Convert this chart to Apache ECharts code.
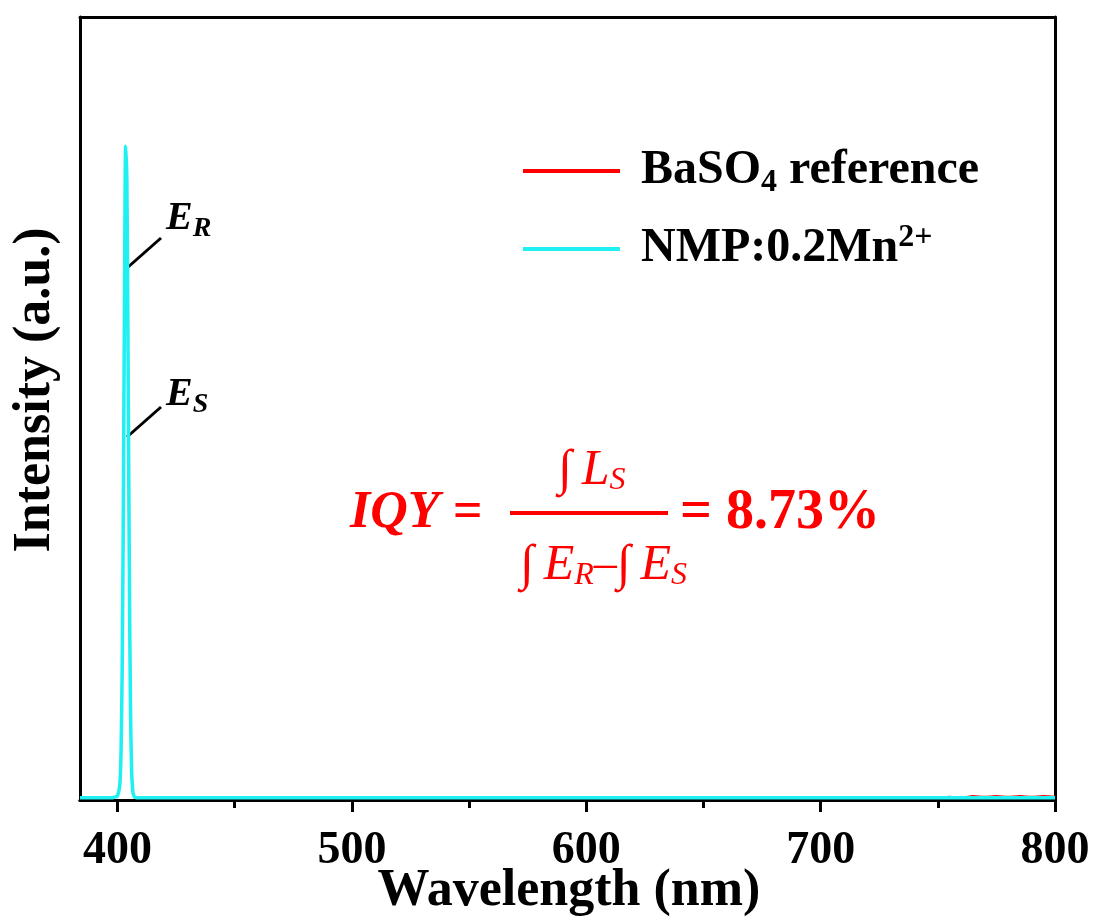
<!DOCTYPE html>
<html>
<head>
<meta charset="utf-8">
<script src="https://cdn.jsdelivr.net/npm/echarts@6/dist/echarts.min.js"></script>
<style>
  html, body { margin: 0; padding: 0; background: #fff; }
  #chart { width: 1095px; height: 921px; }
</style>
</head>
<body>
<div id="chart"></div>
<script>
// wavelength (nm) sample points
const wavelengths = [384, 390, 396, 398, 399, 400, 401, 401.5, 402, 402.5, 403, 403.5, 404, 404.5, 405, 405.5, 406, 406.5, 407, 408, 410, 420, 450, 500, 550, 600, 650, 700, 740, 750, 755, 760, 765, 770, 775, 780, 785, 790, 795, 800];
// BaSO4 reference (red) - mostly hidden under the sample curve
const refIntensity = [0.003, 0.003, 0.003, 0.003, 0.004, 0.005, 0.02, 0.06, 0.17, 0.37, 0.64, 0.82, 0.78, 0.56, 0.31, 0.12, 0.04, 0.012, 0.005, 0.003, 0.003, 0.003, 0.003, 0.003, 0.003, 0.003, 0.003, 0.003, 0.003, 0.003, 0.004, 0.003, 0.005, 0.004, 0.005, 0.004, 0.005, 0.004, 0.005, 0.004];
// NMP:0.2Mn2+ sample (cyan)
const sampleIntensity = [0.003, 0.003, 0.003, 0.003, 0.004, 0.005, 0.02, 0.06, 0.17, 0.38, 0.65, 0.835, 0.79, 0.57, 0.32, 0.13, 0.04, 0.012, 0.005, 0.003, 0.003, 0.003, 0.003, 0.003, 0.003, 0.003, 0.003, 0.003, 0.003, 0.003, 0.003, 0.003, 0.003, 0.003, 0.003, 0.003, 0.003, 0.003, 0.003, 0.003];

const majorTicks = [400, 500, 600, 700, 800];
const minorTicks = [450, 550, 650, 750];
const seriesNames = ["BaSO4 reference", "NMP:0.2Mn2+"];

const FONT = "'Liberation Serif', 'Times New Roman', serif";
const RED = "#ff0000";
const CYAN = "#1ff0f2";

const chart = echarts.init(document.getElementById("chart"), null, { renderer: "canvas" });

const pairs = (ys) => wavelengths.map((x, i) => [x, ys[i]]);

const frameAxis = {
  type: "value",
  min: 384,
  max: 800,
  axisLine: { show: true, onZero: false, lineStyle: { color: "#000", width: 3 } },
  axisTick: { show: false },
  axisLabel: { show: false },
  splitLine: { show: false }
};

const fracRich = {
  i: { fontFamily: FONT, fontSize: 50, fill: RED, padding: [0, 10, 0, 0] },
  v: { fontFamily: FONT, fontStyle: "italic", fontSize: 50, fill: RED },
  s: { fontFamily: FONT, fontStyle: "italic", fontSize: 32, fill: RED, padding: [20, 0, 0, 0] },
  m: { fontFamily: FONT, fontSize: 46, fill: RED }
};

chart.setOption({
  animation: false,
  backgroundColor: "#fff",
  grid: { left: 80, right: 40, top: 17, bottom: 121, containLabel: false, outerBoundsMode: "none" },
  xAxis: [
    {
      ...frameAxis,
      position: "bottom",
      axisTick: { show: true, customValues: majorTicks, length: 12, inside: false, lineStyle: { color: "#000", width: 3 } },
      axisLabel: {
        show: true,
        customValues: majorTicks,
        margin: 28,
        fontFamily: FONT,
        fontWeight: "bold",
        fontSize: 46,
        color: "#000"
      }
    },
    {
      ...frameAxis,
      position: "bottom",
      axisTick: { show: true, customValues: minorTicks, length: 8, lineStyle: { color: "#000", width: 3 } }
    },
    { ...frameAxis, position: "top" }
  ],
  yAxis: [
    {
      type: "value",
      min: 0,
      max: 1,
      position: "left",
      axisLine: { show: true, lineStyle: { color: "#000", width: 3 } },
      axisTick: { show: false },
      axisLabel: { show: false },
      splitLine: { show: false }
    },
    {
      type: "value",
      min: 0,
      max: 1,
      position: "right",
      axisLine: { show: true, lineStyle: { color: "#000", width: 3 } },
      axisTick: { show: false },
      axisLabel: { show: false },
      splitLine: { show: false }
    }
  ],
  legend: {
    orient: "vertical",
    left: 518,
    top: 142,
    itemWidth: 97,
    itemHeight: 4,
    itemGap: 23,
    icon: "rect",
    data: seriesNames.map((n, i) => ({ name: n, itemStyle: { color: i ? CYAN : RED } })),
    formatter: (name) => name === seriesNames[0]
      ? "BaSO{sub|4} reference"
      : "NMP:0.2Mn{sup|2+}",
    textStyle: {
      fontFamily: FONT,
      fontWeight: "bold",
      fontSize: 48,
      color: "#000",
      padding: [0, 0, 0, 16],
      rich: {
        sub: { fontFamily: FONT, fontWeight: "bold", fontSize: 32, color: "#000", padding: [24, 0, 0, 0] },
        sup: { fontFamily: FONT, fontWeight: "bold", fontSize: 32, color: "#000", padding: [0, 0, 22, 0] }
      }
    }
  },
  series: [
    {
      name: seriesNames[0],
      type: "line",
      data: pairs(refIntensity),
      showSymbol: false,
      smooth: 0.3,
      lineStyle: { color: RED, width: 2 },
      itemStyle: { color: RED }
    },
    {
      name: seriesNames[1],
      type: "line",
      data: pairs(sampleIntensity),
      showSymbol: false,
      smooth: 0.3,
      lineStyle: { color: CYAN, width: 3.5 },
      itemStyle: { color: CYAN }
    }
  ],
  graphic: [
    // axis titles
    {
      type: "text", x: 36, y: 390, rotation: Math.PI / 2,
      style: {
        text: "Intensity (a.u.)", fontFamily: FONT, fontWeight: "bold", fontSize: 52,
        fill: "#000", align: "center", verticalAlign: "middle"
      }
    },
    {
      type: "text", x: 569, y: 892,
      style: {
        text: "Wavelength (nm)", fontFamily: FONT, fontWeight: "bold", fontSize: 52,
        fill: "#000", align: "center", verticalAlign: "middle"
      }
    },
    // E_R / E_S pointers
    { type: "line", shape: { x1: 127, y1: 268, x2: 161, y2: 238 }, style: { stroke: "#000", lineWidth: 3 } },
    { type: "line", shape: { x1: 127, y1: 437, x2: 161, y2: 407 }, style: { stroke: "#000", lineWidth: 3 } },
    {
      type: "text", left: 166, top: 199,
      style: {
        text: "{e|E}{s|R}",
        rich: {
          e: { fontFamily: FONT, fontStyle: "italic", fontWeight: "bold", fontSize: 40, fill: "#000" },
          s: { fontFamily: FONT, fontStyle: "italic", fontWeight: "bold", fontSize: 28, fill: "#000", padding: [20, 0, 0, 0] }
        }
      }
    },
    {
      type: "text", left: 166, top: 375,
      style: {
        text: "{e|E}{s|S}",
        rich: {
          e: { fontFamily: FONT, fontStyle: "italic", fontWeight: "bold", fontSize: 40, fill: "#000" },
          s: { fontFamily: FONT, fontStyle: "italic", fontWeight: "bold", fontSize: 28, fill: "#000", padding: [20, 0, 0, 0] }
        }
      }
    },
    // IQY formula
    {
      type: "text", left: 350, top: 488,
      style: { text: "IQY =", fontFamily: FONT, fontStyle: "italic", fontWeight: "bold", fontSize: 52, fill: RED }
    },
    {
      type: "text", left: 558, top: 446,
      style: { text: "{i|\u222B}{v|L}{s|S}", rich: fracRich }
    },
    { type: "rect", shape: { x: 510, y: 511, width: 158, height: 4 }, style: { fill: RED } },
    {
      type: "text", left: 520, top: 541,
      style: { text: "{i|\u222B}{v|E}{s|R}{m|\u2013}{i|\u222B}{v|E}{s|S}", rich: fracRich }
    },
    {
      type: "text", left: 680, top: 486,
      style: { text: "= 8.73%", fontFamily: FONT, fontWeight: "bold", fontSize: 56, fill: RED }
    }
  ]
});
</script>
</body>
</html>
